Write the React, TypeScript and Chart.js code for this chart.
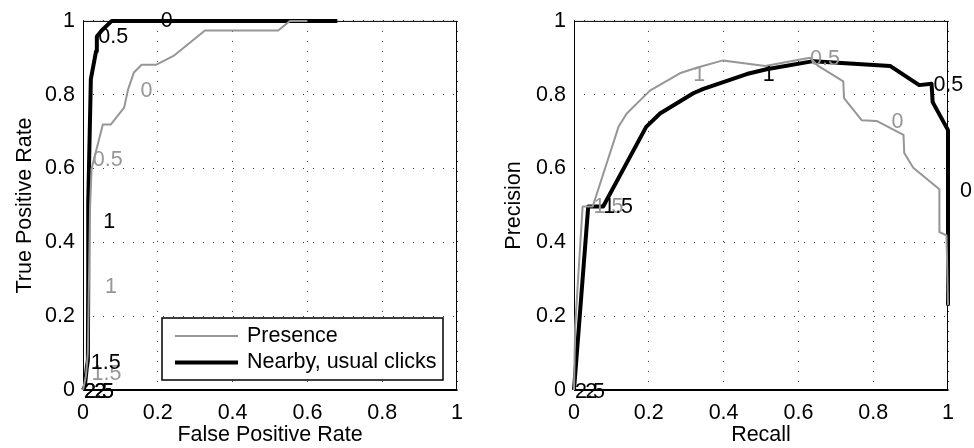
import React, { useEffect, useRef } from "react";
import { Chart, registerables } from "chart.js";

Chart.register(...registerables);

// ---------- DATA ----------
const tickValues = [0, 0.2, 0.4, 0.6, 0.8, 1];
const tickLabels = ["0", "0.2", "0.4", "0.6", "0.8", "1"];

const seriesNames = ["Presence", "Nearby, usual clicks"];

// ROC: Presence
const rocPresenceFPR = [0, 0.008, 0.013, 0.016, 0.019, 0.023, 0.053, 0.074, 0.11, 0.121, 0.136, 0.157, 0.195, 0.242, 0.326, 0.522, 0.553, 0.6];
const rocPresenceTPR = [0, 0.04, 0.1, 0.3, 0.5, 0.6, 0.719, 0.719, 0.765, 0.816, 0.86, 0.881, 0.881, 0.905, 0.974, 0.974, 1, 1];
// ROC: Nearby, usual clicks
const rocNearbyFPR = [0, 0.005, 0.01, 0.013, 0.014, 0.014, 0.021, 0.035, 0.037, 0.05, 0.077, 0.68];
const rocNearbyTPR = [0, 0.01, 0.06, 0.08, 0.3, 0.508, 0.842, 0.918, 0.958, 0.974, 1, 1];

// PR: Presence
const prPresenceRecall = [0, 0.003, 0.023, 0.05, 0.119, 0.141, 0.203, 0.283, 0.328, 0.398, 0.511, 0.631, 0.653, 0.72, 0.722, 0.769, 0.809, 0.881, 0.883, 0.907, 0.977, 0.977, 0.996, 1];
const prPresencePrecision = [0, 0.17, 0.497, 0.497, 0.713, 0.749, 0.811, 0.858, 0.873, 0.893, 0.878, 0.9, 0.878, 0.836, 0.791, 0.731, 0.729, 0.691, 0.642, 0.602, 0.544, 0.428, 0.419, 0.23];
// PR: Nearby, usual clicks
const prNearbyRecall = [0, 0.038, 0.078, 0.193, 0.23, 0.319, 0.346, 0.462, 0.515, 0.64, 0.845, 0.923, 0.956, 0.959, 1, 1];
const prNearbyPrecision = [0, 0.497, 0.497, 0.713, 0.749, 0.804, 0.816, 0.856, 0.869, 0.891, 0.878, 0.826, 0.83, 0.78, 0.704, 0.232];

// Threshold labels (text, x, y, series index)
const rocLabelText = ["0", "0.5", "1", "1.5", "2.5", "2", "0", "0.5", "1", "1.5", "2.5", "2"];
const rocLabelX = [0.208, 0.041, 0.054, 0.021, 0.003, 0.03, 0.154, 0.026, 0.059, 0.023, 0.003, 0.03];
const rocLabelY = [1.0, 0.955, 0.456, 0.073, -0.006, -0.006, 0.809, 0.624, 0.278, 0.043, -0.006, -0.006];
const rocLabelSeries = [1, 1, 1, 1, 1, 1, 0, 0, 0, 0, 1, 1];

const prLabelText = ["1", "0.5", "0", "1.5", "2.5", "2", "1", "0.5", "0", "1.5"];
const prLabelX = [0.505, 0.961, 1.032, 0.078, 0.003, 0.03, 0.319, 0.631, 0.849, 0.052];
const prLabelY = [0.854, 0.826, 0.539, 0.495, -0.006, -0.006, 0.854, 0.896, 0.726, 0.495];
const prLabelSeries = [1, 1, 1, 1, 1, 1, 0, 0, 0, 0];

// ---------- STYLE ----------
const FONT = "'Liberation Sans', Arial, Helvetica, sans-serif";
const FS = 21.5;
const GRAY = "rgb(150,150,150)";
const BLACK = "#000";
const seriesColors = [GRAY, BLACK];
const seriesWidths = [2, 4];

function pts(xs: number[], ys: number[]) {
  return xs.map((x, i) => ({ x, y: ys[i] }));
}

const framePlugin = {
  id: "frame",
  beforeDatasetsDraw(chart: any) {
    const { ctx, chartArea: a } = chart;
    ctx.save();
    ctx.strokeStyle = "#000";
    ctx.lineWidth = 1;
    ctx.strokeRect(a.left + 0.5, a.top + 0.5, a.right - a.left - 1, a.bottom - a.top);
    ctx.lineWidth = 2;
    ctx.beginPath();
    ctx.moveTo(a.left, a.bottom);
    ctx.lineTo(a.right + 0.5, a.bottom);
    ctx.stroke();
    ctx.restore();
  },
};

const labelsPlugin = {
  id: "thrLabels",
  afterDatasetsDraw(chart: any, _args: any, opts: any) {
    const { ctx, scales } = chart;
    const { text, xs, ys, series } = opts;
    if (!text) return;
    ctx.save();
    ctx.font = `${FS}px ${FONT}`;
    ctx.textAlign = "left";
    ctx.textBaseline = "middle";
    const order = text.map((_: any, i: number) => i).sort((a: number, b: number) => series[a] - series[b]);
    for (const i of order) {
      ctx.fillStyle = seriesColors[series[i]];
      ctx.fillText(text[i], scales.x.getPixelForValue(xs[i]), scales.y.getPixelForValue(ys[i]));
    }
    ctx.restore();
  },
};

const legendPlugin = {
  id: "boxLegend",
  afterDatasetsDraw(chart: any, _args: any, opts: any) {
    if (!opts || !opts.show) return;
    const { ctx, chartArea: a } = chart;
    const right = a.right - 14;
    const bottom = a.bottom - 10;
    const w = 281;
    const h = 62;
    const left = right - w;
    const top = bottom - h;
    ctx.save();
    ctx.fillStyle = "#fff";
    ctx.fillRect(left, top, w, h);
    ctx.strokeStyle = "#000";
    ctx.lineWidth = 1.5;
    ctx.strokeRect(left, top, w, h);
    ctx.font = `${FS}px ${FONT}`;
    ctx.textAlign = "left";
    ctx.textBaseline = "middle";
    chart.data.datasets.forEach((ds: any, i: number) => {
      const y = top + 18 + i * 26.5;
      ctx.strokeStyle = ds.borderColor;
      ctx.lineWidth = ds.borderWidth;
      ctx.beginPath();
      ctx.moveTo(left + 13, y);
      ctx.lineTo(left + 76, y);
      ctx.stroke();
      ctx.fillStyle = "#000";
      ctx.fillText(ds.label, left + 85, y);
    });
    ctx.restore();
  },
};

function makeScale(title: string, isY: boolean, fitSize: number, titlePad: number) {
  return {
    type: "linear",
    min: 0,
    max: 1,
    afterBuildTicks(scale: any) {
      scale.ticks = tickValues.map((v) => ({ value: v }));
    },
    afterFit(scale: any) {
      if (isY) scale.width = fitSize;
      else scale.height = fitSize;
    },
    ticks: {
      color: "#000",
      font: { family: FONT, size: FS, lineHeight: 1.2 },
      padding: isY ? 8 : 10,
      maxRotation: 0,
      autoSkip: false,
      callback: (_v: any, i: number) => tickLabels[i],
    },
    grid: {
      color: "#333",
      lineWidth: 1,
      drawTicks: false,
    },
    border: { display: false, dash: [1, 9] },
    title: {
      display: true,
      text: title,
      color: "#000",
      font: { family: FONT, size: FS, lineHeight: 1.2 },
      padding: isY ? { top: titlePad, bottom: 0 } : { top: 0, bottom: titlePad },
    },
  };
}

function buildConfig(
  sets: { x: number[]; y: number[] }[],
  xTitle: string,
  yTitle: string,
  yWidth: number,
  yTitlePad: number,
  padRight: number,
  labels: any,
  showLegend: boolean
): any {
  return {
    type: "line",
    data: {
      datasets: sets.map((s, i) => ({
        label: seriesNames[i],
        data: pts(s.x, s.y),
        borderColor: seriesColors[i],
        backgroundColor: seriesColors[i],
        borderWidth: seriesWidths[i],
        pointRadius: 0,
        tension: 0,
        fill: false,
        clip: 6,
        borderJoinStyle: "round",
        borderCapStyle: "butt",
      })),
    },
    options: {
      animation: false,
      responsive: false,
      maintainAspectRatio: false,
      devicePixelRatio: 1,
      layout: { padding: { top: 16, right: padRight, bottom: 0, left: 0 } },
      scales: {
        x: makeScale(xTitle, false, 58, 0),
        y: makeScale(yTitle, true, yWidth, yTitlePad),
      },
      plugins: {
        legend: { display: false },
        tooltip: { enabled: false },
        thrLabels: labels,
        boxLegend: { show: showLegend },
      },
    },
    plugins: [framePlugin, labelsPlugin, legendPlugin],
  };
}

export default function App() {
  const ref1 = useRef<HTMLCanvasElement>(null);
  const ref2 = useRef<HTMLCanvasElement>(null);

  useEffect(() => {
    document.body.style.margin = "0";
    const c1 = new Chart(
      ref1.current as HTMLCanvasElement,
      buildConfig(
        [
          { x: rocPresenceFPR, y: rocPresenceTPR },
          { x: rocNearbyFPR, y: rocNearbyTPR },
        ],
        "False Positive Rate",
        "True Positive Rate",
        83,
        12,
        30,
        { text: rocLabelText, xs: rocLabelX, ys: rocLabelY, series: rocLabelSeries },
        true
      )
    );
    const c2 = new Chart(
      ref2.current as HTMLCanvasElement,
      buildConfig(
        [
          { x: prPresenceRecall, y: prPresencePrecision },
          { x: prNearbyRecall, y: prNearbyPrecision },
        ],
        "Recall",
        "Precision",
        87,
        14,
        26,
        { text: prLabelText, xs: prLabelX, ys: prLabelY, series: prLabelSeries },
        false
      )
    );
    return () => {
      c1.destroy();
      c2.destroy();
    };
  }, []);

  return (
    <div style={{ position: "fixed", left: 0, top: 0, width: 974, height: 448, background: "#fff" }}>
      <canvas ref={ref1} width={487} height={448} style={{ position: "absolute", left: 0, top: 0, width: 487, height: 448 }} />
      <canvas ref={ref2} width={487} height={448} style={{ position: "absolute", left: 487, top: 0, width: 487, height: 448 }} />
    </div>
  );
}
